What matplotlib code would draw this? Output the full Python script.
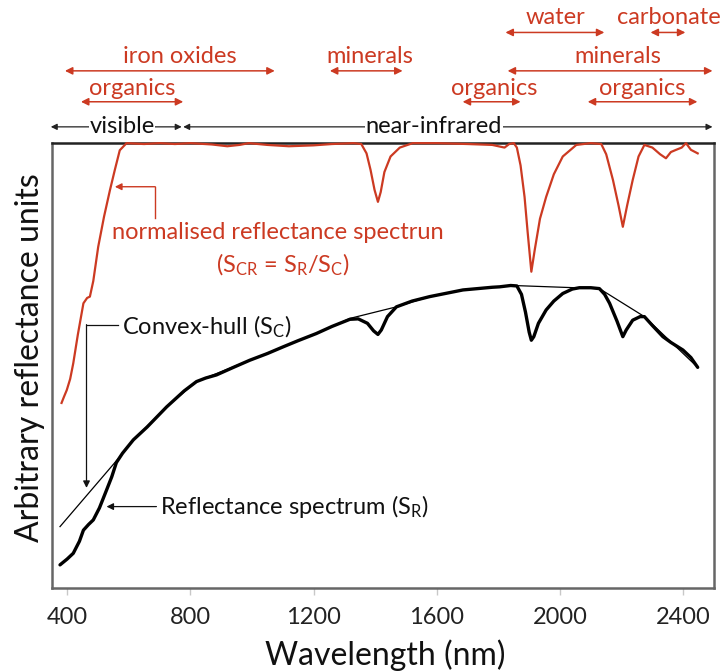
import matplotlib
matplotlib.use("Agg")
import matplotlib.pyplot as plt
import matplotlib.transforms as mtransforms

plt.rcParams['font.family'] = ['Lato', 'DejaVu Sans']
plt.rcParams['mathtext.fontset'] = 'custom'
plt.rcParams['mathtext.rm'] = 'Lato'
plt.rcParams['mathtext.it'] = 'Lato:italic'

RED = '#cc3a22'

# ---------------- data ----------------
# Reflectance spectrum S_R (wavelength nm, arbitrary units)
sr_wl = [377, 400, 420, 440, 453, 470, 485, 505, 528, 545, 560, 580, 615, 660, 723,
         780, 820, 850, 885, 940, 993, 1050, 1101, 1150, 1209, 1260, 1318, 1345,
         1375, 1395, 1409, 1420, 1440, 1469, 1520, 1577, 1685, 1780, 1804, 1840,
         1860, 1875, 1888, 1900, 1907, 1915, 1930, 1955, 1980, 2009, 2040, 2063,
         2100, 2128, 2145, 2161, 2185, 2204, 2215, 2236, 2260, 2274, 2300, 2334,
         2360, 2399, 2425, 2447]
sr_val = [0.052, 0.065, 0.078, 0.105, 0.130, 0.143, 0.153, 0.180, 0.220, 0.250,
          0.282, 0.303, 0.333, 0.362, 0.407, 0.443, 0.464, 0.472, 0.479, 0.496,
          0.512, 0.527, 0.542, 0.556, 0.572, 0.588, 0.604, 0.605, 0.595, 0.578,
          0.570, 0.580, 0.610, 0.632, 0.645, 0.655, 0.670, 0.676, 0.677, 0.680,
          0.679, 0.660, 0.620, 0.575, 0.557, 0.565, 0.595, 0.625, 0.645, 0.662,
          0.672, 0.675, 0.675, 0.673, 0.660, 0.640, 0.600, 0.565, 0.580, 0.602,
          0.610, 0.610, 0.590, 0.565, 0.552, 0.535, 0.518, 0.496]

# Convex hull S_C vertices
hull_wl = [377, 565, 615, 723, 820, 993, 1209, 1318, 1469, 1577, 1685, 1847, 2128,
           2274, 2447]
hull_val = [0.138, 0.290, 0.333, 0.407, 0.464, 0.512, 0.572, 0.606, 0.632, 0.655,
            0.670, 0.680, 0.673, 0.610, 0.496]

# Normalised (continuum-removed) spectrum S_CR
cr_wl = [382, 390, 399, 410, 420, 435, 453, 465, 474, 485, 501, 520, 539, 555, 571,
         593, 650, 700, 750, 800, 870, 920, 960, 990, 1050, 1120, 1200, 1260, 1330,
         1355, 1372, 1385, 1398, 1409, 1418, 1430, 1450, 1480, 1522, 1600, 1700,
         1780, 1820, 1835, 1850, 1860, 1872, 1885, 1895, 1907, 1918, 1935, 1955,
         1980, 2009, 2053, 2100, 2134, 2150, 2172, 2190, 2204, 2218, 2236, 2255,
         2274, 2300, 2325, 2344, 2360, 2377, 2395, 2409, 2425, 2447]
cr_val = [0.416, 0.430, 0.445, 0.470, 0.505, 0.570, 0.640, 0.652, 0.655, 0.690,
          0.767, 0.835, 0.894, 0.940, 0.984, 1.000, 0.998, 1.000, 0.998, 1.000,
          0.997, 0.993, 0.996, 1.000, 0.996, 0.993, 0.995, 0.998, 1.000, 0.998,
          0.977, 0.940, 0.895, 0.868, 0.890, 0.935, 0.970, 0.990, 1.000, 1.000,
          0.998, 0.996, 0.990, 0.998, 1.000, 0.990, 0.950, 0.879, 0.800, 0.711,
          0.760, 0.830, 0.879, 0.930, 0.970, 0.996, 1.000, 0.998, 0.975, 0.917,
          0.860, 0.812, 0.860, 0.917, 0.970, 0.996, 0.990, 0.975, 0.966, 0.980,
          0.985, 0.990, 1.000, 0.985, 0.977]

x_ticks = [400, 800, 1200, 1600, 2000, 2400]

# Absorption-feature ranges (label, start nm, end nm, row)
feat_labels = ['iron oxides', 'organics', 'minerals', 'water', 'carbonate',
               'minerals', 'organics', 'organics']
feat_start = [393, 445, 1253, 1823, 2294, 1830, 1684, 2090]
feat_end = [1074, 777, 1489, 2144, 2407, 2495, 1872, 2446]
feat_row = [1, 2, 1, 0, 0, 1, 2, 2]
feat_text_x = [766, 610, 1382, 1986, 2352, 2187, 1788, 2268]

region_labels = ['visible', 'near-infrared']
region_start = [347, 777]
region_end = [772, 2495]
region_text_x = [578, 1590]

# ---------------- figure ----------------
fig = plt.figure(figsize=(7.26, 6.72), dpi=100)
ax = fig.add_axes([0.0712, 0.125, 0.9123, 0.662])
ax.set_xlim(350, 2500)
ax.set_ylim(0, 1)

ax.plot(hull_wl, hull_val, color='black', lw=0.9, zorder=2)
ax.plot(sr_wl, sr_val, color='black', lw=2.4, zorder=3, solid_capstyle='round')
ax.plot(cr_wl, cr_val, color=RED, lw=1.6, zorder=4, clip_on=False)

ax.set_xticks(x_ticks)
ax.set_xticklabels([str(t) for t in x_ticks])
ax.set_yticks([])
ax.tick_params(axis='x', direction='out', length=5, width=1, color='#c8c8c8',
               labelsize=17, pad=9, labelcolor='#222222')
for s in ax.spines.values():
    s.set_color('#666666')
    s.set_linewidth(1.8)
ax.spines['top'].set_color('#222222')

trans = mtransforms.blended_transform_factory(ax.transData, ax.transAxes)
row_arrow_y = [1.2488, 1.1625, 1.093]
row_text_y = [1.283, 1.195, 1.123]

for lab, a, b, r, tx in zip(feat_labels, feat_start, feat_end, feat_row, feat_text_x):
    ax.annotate('', xy=(b, row_arrow_y[r]), xytext=(a, row_arrow_y[r]),
                xycoords=trans, textcoords=trans, annotation_clip=False,
                arrowprops=dict(arrowstyle='<|-|>', color=RED, lw=1.1,
                                mutation_scale=11, shrinkA=0, shrinkB=0))
    ax.text(tx, row_text_y[r], lab, transform=trans, ha='center', va='center',
            color=RED, fontsize=17, clip_on=False)

for lab, a, b, tx in zip(region_labels, region_start, region_end, region_text_x):
    ax.annotate('', xy=(b, 1.0366), xytext=(a, 1.0366),
                xycoords=trans, textcoords=trans, annotation_clip=False,
                arrowprops=dict(arrowstyle='<|-|>', color='#222222', lw=0.9,
                                mutation_scale=9, shrinkA=0, shrinkB=0))
    ax.text(tx, 1.0366, lab, transform=trans, ha='center', va='center',
            color='#111111', fontsize=17, clip_on=False,
            bbox=dict(facecolor='white', edgecolor='none', pad=0.5))

# Normalised spectrum callout
ax.text(546, 0.800, 'normalised reflectance spectrun', ha='left', va='center',
        color=RED, fontsize=17)
ax.text(1102, 0.726, r'(S$_{\mathrm{CR}}$ = S$_{\mathrm{R}}$/S$_{\mathrm{C}}$)',
        ha='center', va='center', color=RED, fontsize=17)
ax.plot([685, 685], [0.831, 0.902], color=RED, lw=1.0)
ax.annotate('', xy=(555, 0.902), xytext=(686, 0.902),
            arrowprops=dict(arrowstyle='-|>', color=RED, lw=1.0,
                            mutation_scale=10, shrinkA=0, shrinkB=0))

# Convex hull callout
ax.text(577, 0.588, r'Convex-hull (S$_{\mathrm{C}}$)', ha='left', va='center',
        color='#111111', fontsize=17)
ax.plot([565, 463], [0.591, 0.591], color='#111111', lw=0.9)
ax.annotate('', xy=(463, 0.225), xytext=(463, 0.592),
            arrowprops=dict(arrowstyle='-|>', color='#111111', lw=0.9,
                            mutation_scale=10, shrinkA=0, shrinkB=0))

# Reflectance spectrum callout
ax.text(700, 0.183, r'Reflectance spectrum (S$_{\mathrm{R}}$)', ha='left', va='center',
        color='#111111', fontsize=17)
ax.annotate('', xy=(528, 0.183), xytext=(690, 0.183),
            arrowprops=dict(arrowstyle='-|>', color='#111111', lw=0.9,
                            mutation_scale=10, shrinkA=0, shrinkB=0))

fig.text(385 / 726, 1 - 655 / 672, 'Wavelength (nm)', ha='center', va='center',
         fontsize=23, color='#111111')
fig.text(30 / 726, 1 - 358 / 672, 'Arbitrary reflectance units', ha='center',
         va='center', rotation=90, fontsize=23, color='#111111')

fig.savefig('out.png', dpi=100)
